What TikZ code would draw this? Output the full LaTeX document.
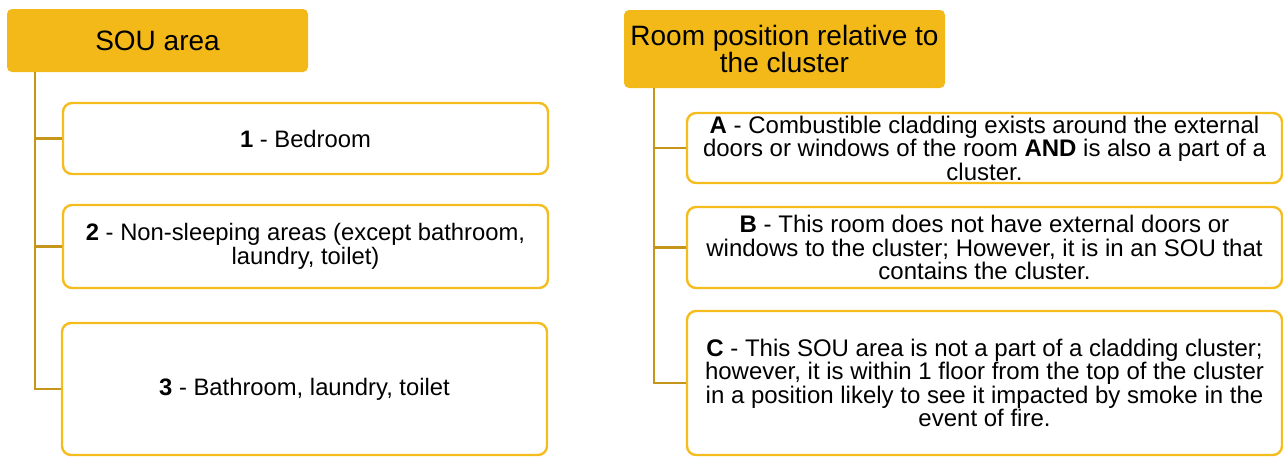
\documentclass[tikz,border=0pt]{standalone}
\usepackage{fontspec}
\setmainfont{Liberation Sans}
\usetikzlibrary{positioning,calc}
\definecolor{gold}{RGB}{242,185,24}
\definecolor{goldline}{RGB}{245,188,30}
\definecolor{spine}{RGB}{198,150,26}
\tikzset{
  header/.style={fill=gold, draw=none, rounded corners=5pt, inner sep=0pt,
    align=center, font=\fontsize{28}{27}\selectfont},
  itembox/.style={draw=goldline, line width=2.4pt, rounded corners=9pt, fill=white,
    inner sep=0pt, align=center, font=\fontsize{23.8}{24}\selectfont},
  rightbox/.style={itembox, font=\fontsize{24}{23.5}\selectfont},
  link/.style={draw=spine, line width=2.4pt}
}
\begin{document}
\begin{tikzpicture}[x=1pt,y=-1pt]
\useasboundingbox (0,0) rectangle (1283,456);

% left column: SOU area
\node[header, minimum width=301pt, minimum height=63pt] (lh) at (157.5,40.5) {SOU area};
\node[itembox, minimum width=485pt, minimum height=71pt] (b1) at (305.5,138.5) {\textbf{1} - Bedroom};
\node[itembox, minimum width=485pt, minimum height=83pt] (b2) at (305.5,246.5) {\textbf{2} - Non-sleeping areas (except bathroom,\\laundry, toilet)};
\node[itembox, minimum width=485pt, minimum height=132pt] (b3) at (304.5,389) {\textbf{3} - Bathroom, laundry, toilet};

\coordinate (ls) at ($(lh.south west)+(28,0)$);
\draw[link] (ls) |- (b3.west);
\draw[link] (ls |- b1.west) -- (b1.west);
\draw[link] (ls |- b2.west) -- (b2.west);

% right column: room position relative to the cluster
\node[header, minimum width=321pt, minimum height=78pt] (rh) at (784.5,49) {Room position relative to\\the cluster};
\node[rightbox, minimum width=595pt, minimum height=70pt] (ba) at (984.5,148) {\textbf{A} - Combustible cladding exists around the external\\doors or windows of the room \textbf{AND} is also a part of a\\cluster.};
\node[rightbox, minimum width=595pt, minimum height=81pt] (bb) at (984.5,247.5) {\textbf{B} - This room does not have external doors or\\windows to the cluster; However, it is in an SOU that\\contains the cluster.};
\node[rightbox, minimum width=595pt, minimum height=144pt] (bc) at (984.5,383) {\textbf{C} - This SOU area is not a part of a cladding cluster;\\however, it is within 1 floor from the top of the cluster\\in a position likely to see it impacted by smoke in the\\event of fire.};

\coordinate (rs) at ($(rh.south west)+(30,0)$);
\draw[link] (rs) |- (bc.west);
\draw[link] (rs |- ba.west) -- (ba.west);
\draw[link] (rs |- bb.west) -- (bb.west);
\end{tikzpicture}
\end{document}
